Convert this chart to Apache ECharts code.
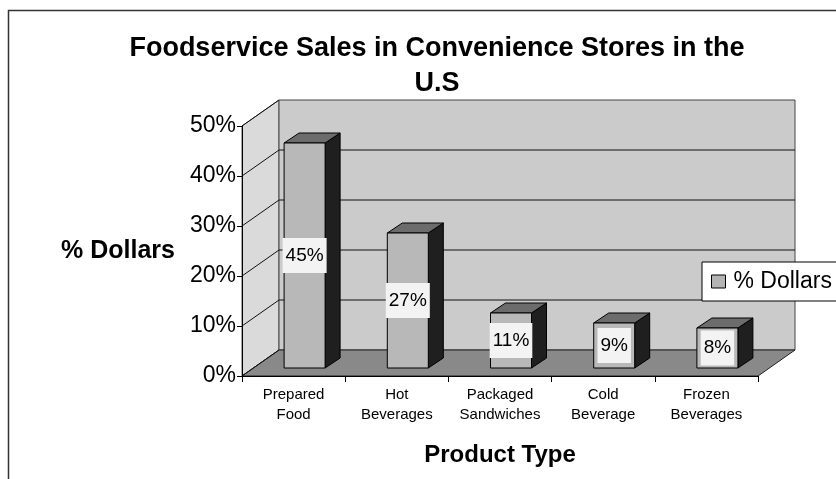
<!DOCTYPE html>
<html><head><meta charset="utf-8">
<script src="https://cdn.jsdelivr.net/npm/echarts@6/dist/echarts.min.js"></script>
<style>html,body{margin:0;padding:0;background:#fff}#c{width:836px;height:479px}</style>
</head><body><div id="c"></div>
<script>
const categories = ['Prepared\nFood', 'Hot\nBeverages', 'Packaged\nSandwiches', 'Cold\nBeverage', 'Frozen\nBeverages'];
const dollarsPct = [45, 27, 11, 9, 8];
const yTicks = [0, 10, 20, 30, 40, 50];
const seriesName = '% Dollars';

const FONT = 'Arial, "Liberation Sans", sans-serif';
const DEPTH_X = 37, DEPTH_Y = -26;
const chart = echarts.init(document.getElementById('c'), null, {renderer: 'canvas'});

function wallsRender(params, api) {
  const cs = params.coordSys;
  const x0 = cs.x, x1 = cs.x + cs.width, yb = cs.y + cs.height, yt = cs.y;
  const ch = [];
  ch.push({type: 'polygon', shape: {points: [[x0, yb], [x0, yt], [x0 + DEPTH_X, yt + DEPTH_Y], [x0 + DEPTH_X, yb + DEPTH_Y]]},
    style: {fill: '#dadada', stroke: '#555', lineWidth: 1}});
  ch.push({type: 'rect', shape: {x: x0 + DEPTH_X, y: yt + DEPTH_Y, width: cs.width, height: cs.height},
    style: {fill: '#cbcbcb', stroke: '#444', lineWidth: 1}});
  ch.push({type: 'polygon', shape: {points: [[x0, yb], [x1, yb], [x1 + DEPTH_X, yb + DEPTH_Y], [x0 + DEPTH_X, yb + DEPTH_Y]]},
    style: {fill: '#898989', stroke: '#222', lineWidth: 1}});
  yTicks.forEach(t => {
    const y = api.coord([0, t])[1];
    ch.push({type: 'line', shape: {x1: x0, y1: y, x2: x0 + DEPTH_X, y2: y + DEPTH_Y}, style: {stroke: '#111', lineWidth: 1}});
    if (t > 0 && t < 50) {
      ch.push({type: 'line', shape: {x1: x0 + DEPTH_X, y1: y + DEPTH_Y, x2: x1 + DEPTH_X, y2: y + DEPTH_Y}, style: {stroke: '#111', lineWidth: 1}});
    }
  });
  return {type: 'group', children: ch};
}

function barRender(params, api) {
  const i = api.value(0), v = api.value(1);
  const base = api.coord([i, 0]), top = api.coord([i, v]);
  const ox = 11, oy = -8, hw = 20.5, dx = 15, dy = -10;
  const cx = base[0] + ox, by = base[1] + oy, ty = top[1] + oy;
  const l = cx - hw, r = cx + hw;
  return {type: 'group', children: [
    {type: 'polygon', shape: {points: [[r, ty], [r + dx, ty + dy], [r + dx, by + dy], [r, by]]}, style: {fill: '#1f1f1f', stroke: '#000', lineWidth: 1}},
    {type: 'polygon', shape: {points: [[l, ty], [r, ty], [r + dx, ty + dy], [l + dx, ty + dy]]}, style: {fill: '#6c6c6c', stroke: '#000', lineWidth: 1}},
    {type: 'rect', shape: {x: l, y: ty, width: 2 * hw, height: by - ty}, style: {fill: '#b8b8b8', stroke: '#000', lineWidth: 1}},
    {type: 'text', style: {text: v + '%', x: cx, y: (ty + by) / 2, align: 'center', verticalAlign: 'middle',
      font: '19px ' + FONT, fill: '#000', backgroundColor: '#f3f3f3', padding: [8, 3]}}
  ]};
}

chart.setOption({
  animation: false,
  backgroundColor: '#fff',
  title: {text: 'Foodservice Sales in Convenience Stores in the\nU.S', left: 432, top: 26, textAlign: 'center',
    textStyle: {fontFamily: FONT, fontSize: 27, fontWeight: 'bold', color: '#000', lineHeight: 35}},
  legend: {data: [{name: seriesName, icon: 'rect'}], left: 702, top: 262, orient: 'vertical', itemWidth: 14, itemHeight: 13,
    backgroundColor: '#fff', borderColor: '#000', borderWidth: 1, padding: [8, 14, 8, 9],
    itemStyle: {borderColor: '#000', borderWidth: 1, color: '#b4b4b4'},
    textStyle: {fontFamily: FONT, fontSize: 23, color: '#000', padding: [0, 0, 0, 3]}},
  grid: {left: 242, top: 126, width: 516, height: 250},
  graphic: [{type: 'rect', shape: {x: 8.5, y: 10.5, width: 900, height: 600}, style: {fill: 'none', stroke: '#333', lineWidth: 1.5}, z: 100}],
  xAxis: {type: 'category', data: categories,
    name: 'Product Type', nameLocation: 'middle', nameGap: 67,
    nameTextStyle: {fontFamily: FONT, fontSize: 24, fontWeight: 'bold', color: '#000'},
    axisLine: {lineStyle: {color: '#000', width: 1}}, axisTick: {show: true, length: 6, lineStyle: {color: '#000'}},
    axisLabel: {margin: 9, fontFamily: FONT, fontSize: 15, color: '#000', lineHeight: 20, interval: 0},
    z: 5},
  yAxis: {type: 'value', min: 0, max: 50, interval: 10,
    name: '% Dollars', nameLocation: 'middle', nameGap: 67, nameRotate: 0,
    nameTextStyle: {fontFamily: FONT, fontSize: 25, fontWeight: 'bold', color: '#000', align: 'right', verticalAlign: 'middle', padding: [3, 0, 0, 0]},
    axisLine: {show: true, lineStyle: {color: '#000', width: 1}}, axisTick: {show: true, length: 5, lineStyle: {color: '#000'}},
    splitLine: {show: false},
    axisLabel: {margin: 6, formatter: '{value}%', fontFamily: FONT, fontSize: 23, color: '#000'},
    z: 5},
  series: [
    {type: 'custom', name: 'walls', renderItem: wallsRender, data: [[0, 0]], z: 1, silent: true},
    {type: 'custom', name: seriesName, renderItem: barRender, data: dollarsPct.map((v, i) => [i, v]),
      encode: {x: 0, y: 1}, itemStyle: {color: '#b4b4b4'}, z: 3}
  ]
});
</script></body></html>
